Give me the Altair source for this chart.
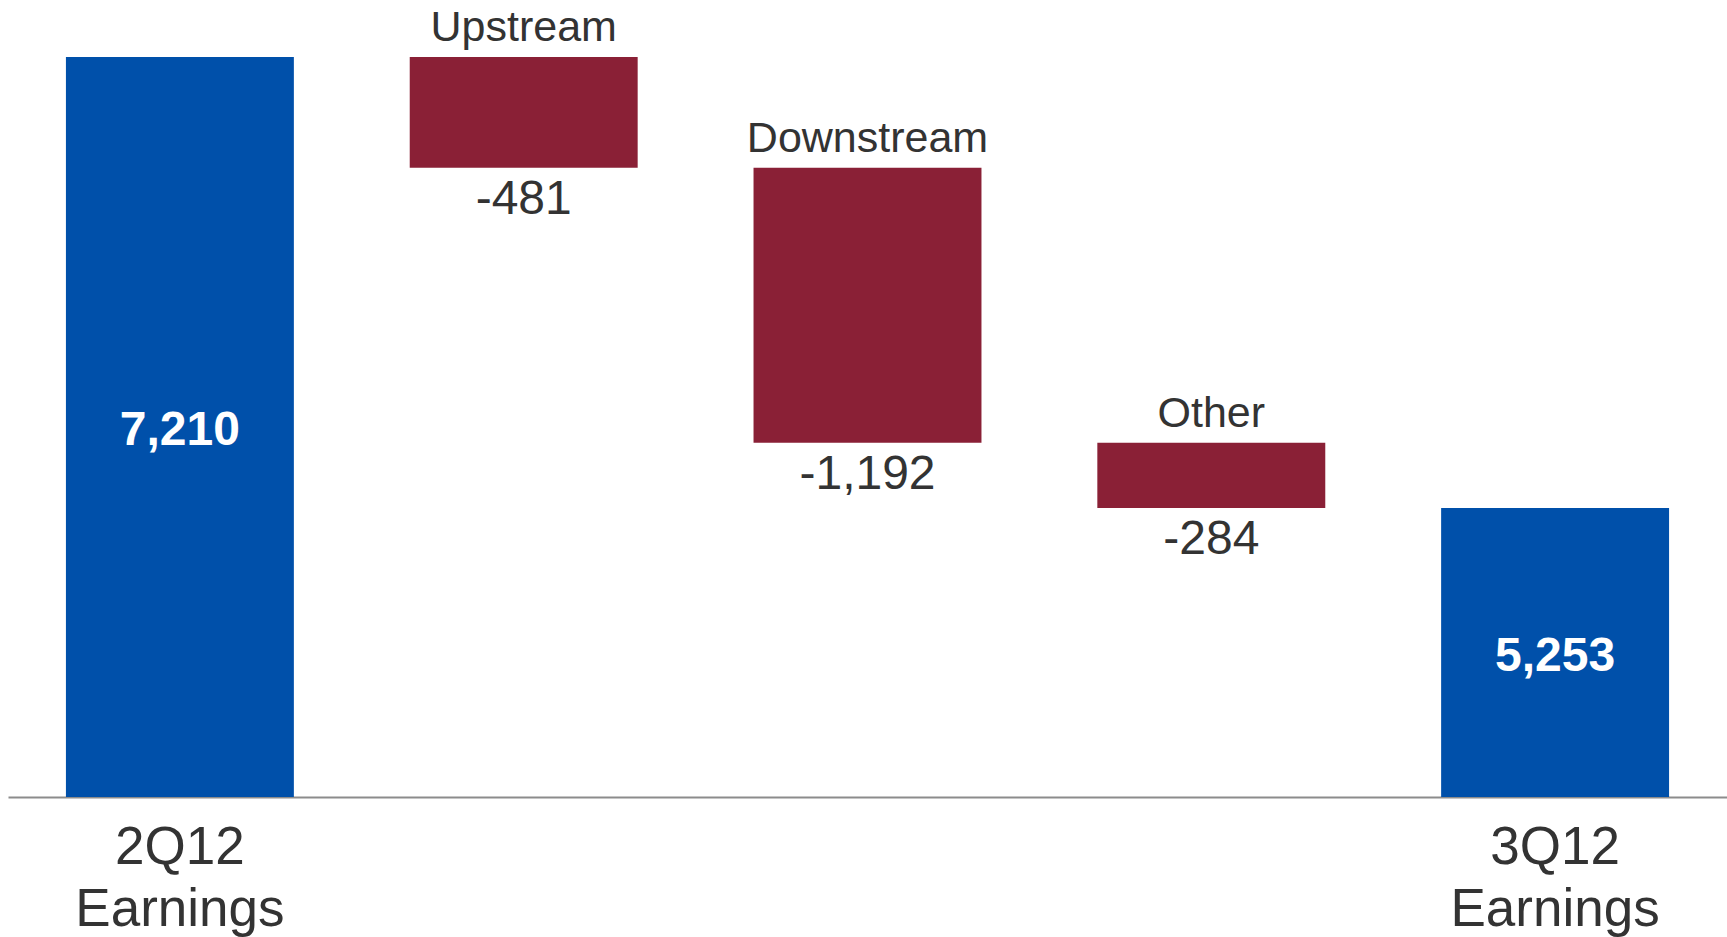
import altair as alt
import pandas as pd

# ---- data ----
categories = ["2Q12 Earnings", "Upstream", "Downstream", "Other", "3Q12 Earnings"]
values = [7210, -481, -1192, -284, 5253]
kinds = ["total", "delta", "delta", "delta", "total"]

AXIS_BASE = 4000   # truncated value axis (bars of totals start from the axis floor)
AXIS_TOP = 7457

rows = []
running = 0
for cat, v, k in zip(categories, values, kinds):
    if k == "total":
        start, end = v, 0
        mid = (v + AXIS_BASE) / 2
        running = v
    else:
        start, end = running, running + v
        mid = (start + end) / 2
        running = running + v
    rows.append(dict(cat=cat, kind=k, start=start, end=end, mid=mid,
                     label=f"{v:,}"))
df = pd.DataFrame(rows)

FONT = "Liberation Sans"
TEXT = "#333333"

x = alt.X("cat:N", sort=categories, title=None,
          scale=alt.Scale(paddingInner=0.337, paddingOuter=0.1685),
          axis=alt.Axis(labelAngle=0, ticks=False, domainColor="#8c8c8c", domainWidth=2,
                        labelFont=FONT, labelFontSize=53, labelColor=TEXT,
                        labelLineHeight=62, labelPadding=24, labelLimit=0,
                        labelExpr="datum.value == '2Q12 Earnings' ? ['2Q12','Earnings'] : datum.value == '3Q12 Earnings' ? ['3Q12','Earnings'] : ''"))
yscale = alt.Scale(domain=[AXIS_BASE, AXIS_TOP], zero=False, nice=False)

base = alt.Chart(df)

bars = base.mark_bar(clip=True).encode(
    x=x,
    y=alt.Y("start:Q", scale=yscale, axis=None),
    y2="end:Q",
    color=alt.Color("kind:N", scale=alt.Scale(domain=["total", "delta"], range=["#0050AA", "#8A2036"]), legend=None),
)

total_text = base.transform_filter("datum.kind == 'total'").mark_text(
    font=FONT, fontSize=48, fontWeight="bold", color="white", baseline="middle", dy=4
).encode(x=alt.X("cat:N", sort=categories), y=alt.Y("mid:Q", scale=yscale), text="label:N")

name_text = base.transform_filter("datum.kind == 'delta'").mark_text(
    font=FONT, fontSize=43, color=TEXT, baseline="alphabetic", dy=-16
).encode(x=alt.X("cat:N", sort=categories), y=alt.Y("start:Q", scale=yscale), text="cat:N")

value_text = base.transform_filter("datum.kind == 'delta'").mark_text(
    font=FONT, fontSize=48, color=TEXT, baseline="alphabetic", dy=46
).encode(x=alt.X("cat:N", sort=categories), y=alt.Y("end:Q", scale=yscale), text="label:N")

chart = alt.layer(bars, total_text, name_text, value_text).properties(
    width=1719, height=797,
    autosize=alt.AutoSizeParams(type="none"),
    padding={"left": 8, "top": 0, "right": 0, "bottom": 140},
    background="white",
).configure_view(stroke=None)

chart.save("out.html", embed_options={"renderer": "svg", "actions": False})
